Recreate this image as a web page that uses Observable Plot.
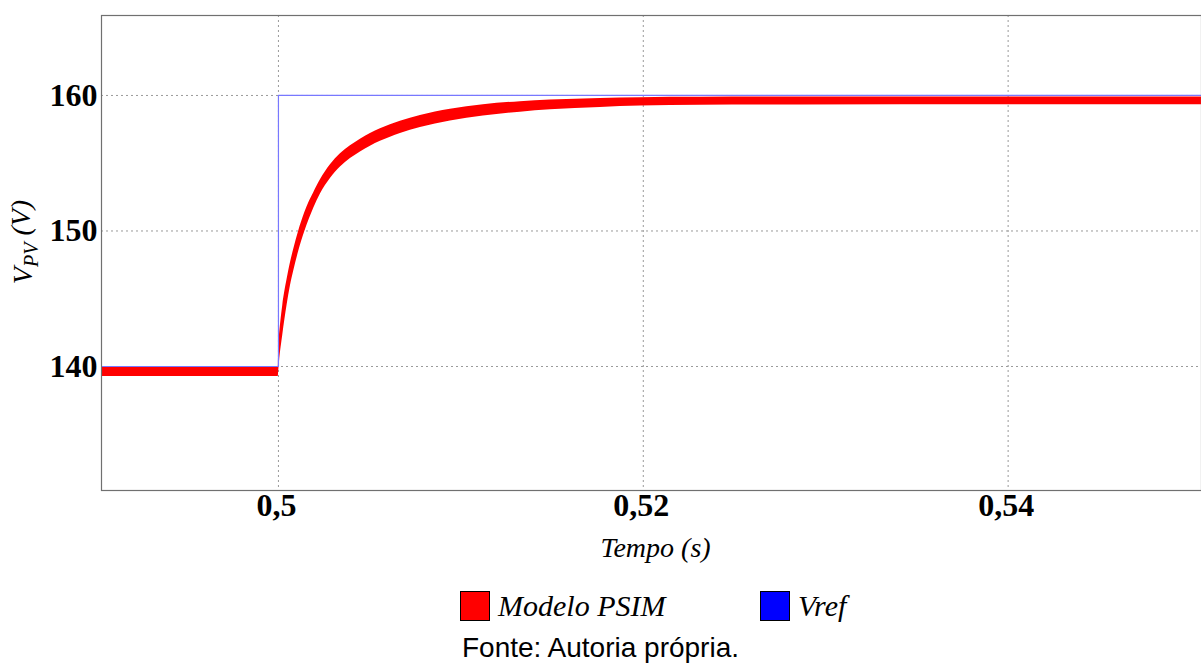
<!DOCTYPE html>
<html>
<head>
<meta charset="utf-8">
<script src="https://cdn.jsdelivr.net/npm/d3@7"></script>
<script src="https://cdn.jsdelivr.net/npm/@observablehq/plot@0.6"></script>
<style>
  html, body { margin: 0; padding: 0; background: #fff; }
  #wrap { position: relative; width: 1201px; height: 666px; overflow: hidden; }
  #legend { position: absolute; left: 0; top: 588px; width: 1201px; height: 36px; }
  .item { position: absolute; top: 0; height: 36px; display: flex; align-items: center; }
  .swatch { width: 30px; height: 30px; border: 1.5px solid #000; box-sizing: border-box; margin-right: 8px; }
  .lab { font-family: "Liberation Serif", serif; font-style: italic; font-size: 30px; color: #000; }
  #caption { position: absolute; left: 0; width: 1201px; top: 632px; text-align: center;
             font-family: "Liberation Sans", sans-serif; font-size: 28px; color: #000; }
</style>
</head>
<body>
<div id="wrap">
  <div id="chart"></div>
  <div id="legend"></div>
  <div id="caption">Fonte: Autoria própria.</div>
</div>
<script>
// ---- data ----
// PSIM model: ripple band (lower / upper envelope) vs time
const times = [0.4903, 0.49999, 0.500016, 0.500055, 0.500236, 0.500477, 0.500658, 0.500838,
  0.501112, 0.501441, 0.501699, 0.501934, 0.502301, 0.502849, 0.503397, 0.504493, 0.505589,
  0.506685, 0.507781, 0.509425, 0.511233, 0.51326, 0.514904, 0.517644, 0.519836, 0.523123,
  0.528603, 0.539562, 0.5506];
const vHigh = [139.95, 139.95, 141.70, 142.30, 144.50, 146.45, 147.65, 148.65,
  150.00, 151.35, 152.20, 152.83, 153.78, 154.88, 155.69, 156.77, 157.54,
  158.10, 158.53, 158.99, 159.32, 159.54, 159.66, 159.78, 159.84, 159.87,
  159.88, 159.89, 159.89];
const vLow = [139.26, 139.26, 139.70, 140.30, 142.30, 144.55, 145.95, 147.05,
  148.50, 149.95, 150.90, 151.68, 152.73, 153.88, 154.72, 155.83, 156.62,
  157.20, 157.63, 158.11, 158.48, 158.77, 158.94, 159.12, 159.22, 159.27,
  159.30, 159.31, 159.31];
// reference voltage step
const refTimes = [0.4903, 0.5, 0.5, 0.5506];
const refValues = [140, 140, 160, 160];
// axes
const xTicks = [0.5, 0.52, 0.54];
const yTicks = [140, 150, 160];
const xTitle = "Tempo (s)";
const yTitleMain = "V";
const yTitleSub = "PV";
const yTitleUnit = " (V)";
// legend
const seriesNames = ["Modelo PSIM", "Vref"];
const seriesColors = ["#ff0000", "#0000ff"];

const band = times.map((t, i) => ({t, lo: vLow[i], hi: vHigh[i]}));
const ref = refTimes.map((t, i) => ({t, v: refValues[i]}));

const chart = Plot.plot({
  width: 1201,
  height: 580,
  marginLeft: 101,
  marginRight: 0,
  marginTop: 15,
  marginBottom: 90,
  style: {fontFamily: "Liberation Serif, serif", fontSize: "32px", color: "#000", background: "#fff"},
  x: {domain: [0.4903, 0.5506], label: null},
  y: {domain: [130.85, 165.9], label: null},
  marks: [
    Plot.gridX(xTicks, {stroke: "#9a9a9a", strokeOpacity: 1, strokeDasharray: "2,3"}),
    Plot.gridY(yTicks, {stroke: "#9a9a9a", strokeOpacity: 1, strokeDasharray: "2,3"}),
    Plot.areaY(band, {x: "t", y1: "lo", y2: "hi", fill: seriesColors[0], curve: "monotone-x"}),
    Plot.line(ref, {x: "t", y: "v", stroke: "#7878ff", strokeWidth: 1.2, curve: "linear"}),
    Plot.frame({stroke: "#707070", strokeWidth: 1.2}),
    Plot.axisX(xTicks, {tickSize: 0, tickPadding: 3, fontSize: 32, fontWeight: "bold",
      tickFormat: d => String(d).replace(".", ","), dx: -2}),
    Plot.axisY(yTicks, {tickSize: 0, tickPadding: 4, fontSize: 32, fontWeight: "bold"}),
    Plot.text([xTitle], {frameAnchor: "bottom", dy: 58, dx: 4, fontSize: 28, fontStyle: "italic",
      lineAnchor: "middle", textAnchor: "middle"}),
    Plot.text([yTitleMain + yTitleSub + yTitleUnit], {frameAnchor: "left", dx: -78, dy: -11, rotate: -90,
      fontSize: 28, fontStyle: "italic", lineAnchor: "middle", textAnchor: "middle"})
  ]
});
document.getElementById("chart").appendChild(chart);

// subscript for the y title
d3.select(chart).selectAll("text").each(function() {
  if (this.textContent === yTitleMain + yTitleSub + yTitleUnit) {
    const t = d3.select(this);
    t.text(null);
    t.append("tspan").text(yTitleMain);
    t.append("tspan").attr("font-size", 20).attr("dy", "0.3em").text(yTitleSub);
    t.append("tspan").attr("dy", "-0.3em").text(yTitleUnit);
  }
});

// legend
const legendX = [460, 760];
const legend = document.getElementById("legend");
seriesNames.forEach((name, i) => {
  const item = document.createElement("div");
  item.className = "item";
  item.style.left = legendX[i] + "px";
  const sw = document.createElement("div");
  sw.className = "swatch";
  sw.style.background = seriesColors[i];
  const lab = document.createElement("span");
  lab.className = "lab";
  lab.textContent = name;
  item.appendChild(sw);
  item.appendChild(lab);
  legend.appendChild(item);
});
</script>
</body>
</html>
